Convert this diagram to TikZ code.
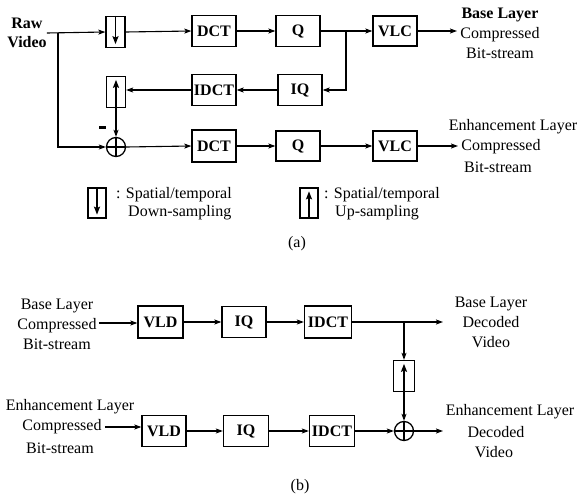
\documentclass[tikz,border=0pt]{standalone}
\usepackage{fontspec}
\setmainfont{Liberation Serif}
\usetikzlibrary{arrows.meta}
\begin{document}
\begin{tikzpicture}[x=1pt,y=-1pt,
  font=\fontsize{16}{20}\selectfont,
  blk/.style={draw,line width=1.3pt,minimum width=44pt,minimum height=31pt,inner sep=0pt,font=\fontsize{16}{20}\selectfont\bfseries},
  smp/.style={draw,line width=1.3pt,minimum width=19pt,minimum height=31pt,inner sep=0pt},
  sumnode/.style={draw,circle,line width=1.3pt,minimum size=19pt,inner sep=0pt},
  lbl/.style={align=center,inner sep=0pt},
  conn/.style={line width=1.1pt,-{Stealth[length=7pt,width=5pt,inset=1.5pt]}},
  wire/.style={line width=1.1pt},
  samp/.style={line width=1.6pt,-{Stealth[length=8pt,width=6pt,inset=1.5pt]}}
]
\useasboundingbox (0,0) rectangle (579,501);

% ---------- (a) encoder ----------
\node[lbl,font=\fontsize{16}{19}\selectfont\bfseries] (raw) at (27,33) {Raw\\Video};
\node[smp] (down1) at (115.5,32) {};
\node[blk] (dct1) at (214,31) {DCT};
\node[blk] (q1) at (298,31) {Q};
\node[blk,minimum height=30pt] (vlc1) at (395,31) {VLC};
\node[lbl] (out1) at (500,33) {\textbf{Base Layer}\\Compressed\\Bit-stream};
\coordinate (o1) at (457,31);

\node[blk] (iq1) at (300,90) {IQ};
\node[blk] (idct1) at (214,90) {IDCT};
\node[smp] (up1) at (116,92) {};

\node[sumnode] (add1) at (116,147) {};
\node[fill,minimum width=7pt,minimum height=3pt,inner sep=0pt] (minus) at (102,127) {};
\node[blk,minimum height=32pt] (dct2) at (214,146) {DCT};
\node[blk,minimum height=30pt] (q2) at (298,146) {Q};
\node[blk,minimum height=30pt] (vlc2) at (395,146) {VLC};
\node[lbl] (el2) at (513,127) {Enhancement Layer};
\node[lbl] (cp2) at (501,147) {Compressed};
\node[lbl] (bs2) at (498,167) {Bit-stream};
\coordinate (o2) at (458,146);

\coordinate (j1) at (58,33);
\coordinate (j2) at (346,31);

% sampling arrows inside the boxes
\draw[samp] (down1.north) -- ([yshift=4pt]down1.south);
\draw[samp] (up1.south) -- ([yshift=-4pt]up1.north);
% plus sign
\draw[wire] (add1.north) -- (add1.south) (add1.west) -- (add1.east);

\draw[conn] (raw.east |- j1) -- (down1.west);
\draw[conn] (j1) |- (add1.west);
\draw[conn] (down1.east) -- (dct1.west);
\draw[conn] (dct1) -- (q1);
\draw[conn] (q1) -- (vlc1);
\draw[conn] (vlc1) -- (o1);
\draw[conn] (j2) |- (iq1.east);
\draw[conn] (iq1) -- (idct1);
\draw[conn] (idct1.west) -- (up1.east |- idct1.west);
\draw[conn] (up1.south) -- (add1.north);
\draw[conn] (add1.east) -- (dct2.west);
\draw[conn] (dct2) -- (q2);
\draw[conn] (q2) -- (vlc2);
\draw[conn] (vlc2) -- (o2);

% legend
\node[smp,minimum width=18pt,minimum height=30pt] (dleg) at (97,203) {};
\draw[samp] (dleg.north) -- ([yshift=4pt]dleg.south);
\node[anchor=west,inner sep=0pt] (dtx1) at (116,195) {: Spatial/temporal};
\node[anchor=west,inner sep=0pt] (dtx2) at (128,213) {Down-sampling};
\node[smp,minimum width=18pt,minimum height=30pt] (uleg) at (309,203) {};
\draw[samp] (uleg.south) -- ([yshift=-4pt]uleg.north);
\node[anchor=west,inner sep=0pt] (utx1) at (324,195) {: Spatial/temporal};
\node[anchor=west,inner sep=0pt] (utx2) at (335,213) {Up-sampling};

\node (capa) at (297,244) {(a)};

% ---------- (b) decoder ----------
\node[lbl] (in3) at (57,324) {Base Layer\\Compressed\\Bit-stream};
\node[blk,minimum width=45pt,minimum height=32pt] (vld1) at (160.5,322) {VLD};
\node[blk] (iq3) at (244,322) {IQ};
\node[blk,minimum width=47pt,minimum height=32pt] (idct3) at (328,322) {IDCT};
\node[lbl] (out3) at (491,322) {Base Layer\\Decoded\\Video};
\coordinate (o3) at (443,322);
\coordinate (j3) at (404,322);
\node[smp,minimum width=21pt] (up3) at (404,376) {};
\draw[samp] (up3.south) -- ([yshift=-4pt]up3.north);
\node[sumnode] (add3) at (404,431) {};
\draw[wire] (add3.north) -- (add3.south) (add3.west) -- (add3.east);

\node[lbl] (el4) at (70,407) {Enhancement Layer};
\node[lbl] (cp4) at (62,427) {Compressed};
\node[lbl] (bs4) at (60,448) {Bit-stream};
\node[blk] (vld2) at (164,431) {VLD};
\node[blk,minimum width=45pt] (iq4) at (246,431) {IQ};
\node[blk,minimum width=45pt] (idct4) at (332,431) {IDCT};
\node[lbl] (el5) at (510,412) {Enhancement Layer};
\node[lbl] (dc5) at (496,432) {Decoded};
\node[lbl] (vd5) at (494,452) {Video};
\coordinate (o4) at (443,431);

\draw[conn] (in3.east) ++(2,-1) coordinate (s3) (s3) -- (vld1.west |- s3);
\draw[conn] (vld1) -- (iq3);
\draw[conn] (iq3) -- (idct3);
\draw[conn] (idct3.east) -- (o3);
\draw[conn] (j3) -- (up3.north);
\draw[conn] (up3.south) -- (add3.north);
\draw[conn] ([xshift=3pt]cp4.east) -- (vld2.west |- cp4.east);
\draw[conn] (vld2) -- (iq4);
\draw[conn] (iq4) -- (idct4);
\draw[conn] (idct4) -- (add3);
\draw[conn] (add3.east) -- (o4);

\node (capb) at (300,487) {(b)};
\end{tikzpicture}
\end{document}
